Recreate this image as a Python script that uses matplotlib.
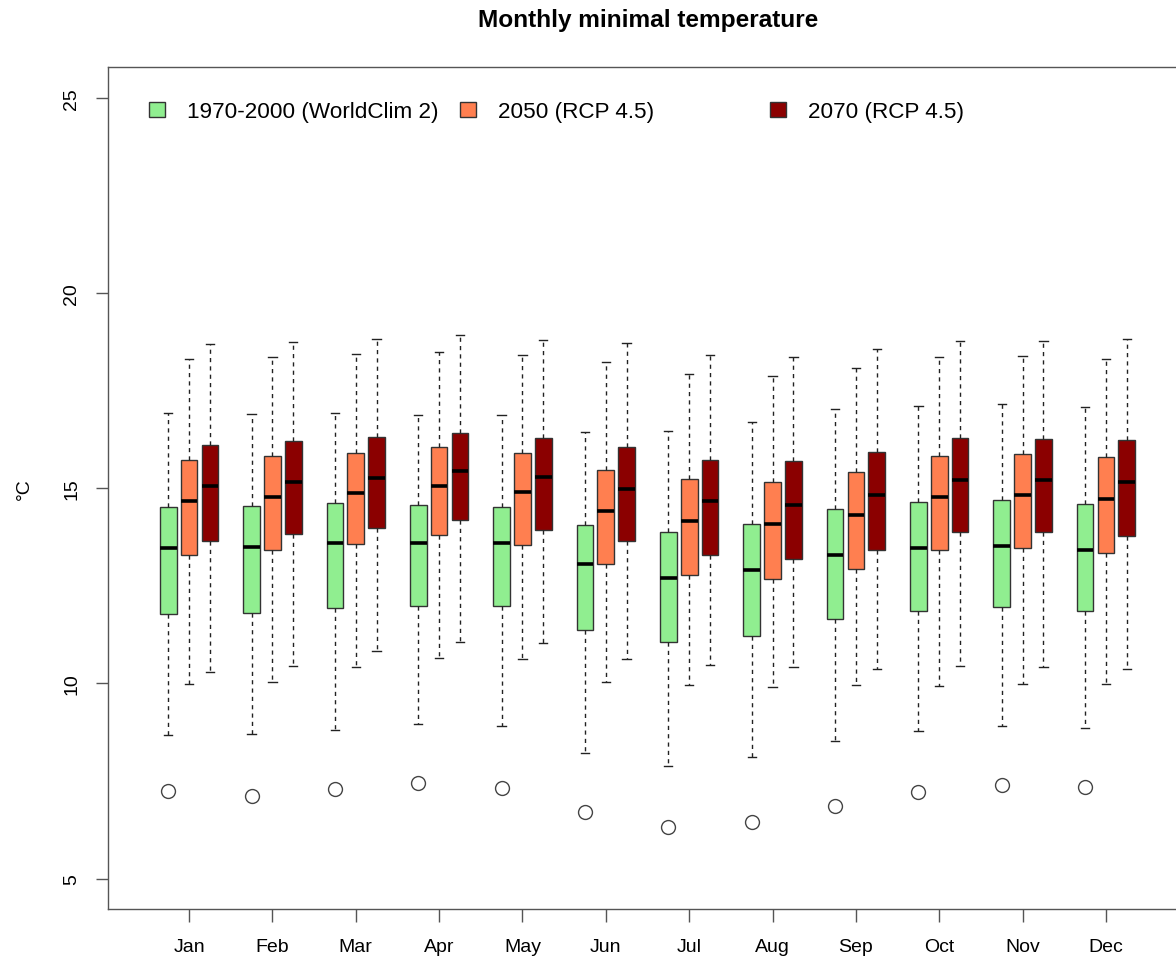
import matplotlib
matplotlib.use("Agg")
import matplotlib.pyplot as plt
from matplotlib.patches import Patch
from matplotlib.legend import Legend

plt.rcParams["font.family"] = ["Liberation Sans", "DejaVu Sans"]

months = ["Jan", "Feb", "Mar", "Apr", "May", "Jun",
          "Jul", "Aug", "Sep", "Oct", "Nov", "Dec"]
series = ["1970-2000 (WorldClim 2)", "2050 (RCP 4.5)", "2070 (RCP 4.5)"]
colors = ["#90EE90", "#FF7F50", "#8B0000"]

# 1970-2000 (WorldClim 2)
cur_hi = [16.93, 16.91, 16.92, 16.88, 16.88, 16.45, 16.47, 16.71, 17.04, 17.12, 17.17, 17.08]
cur_q3 = [14.52, 14.54, 14.62, 14.58, 14.53, 14.07, 13.88, 14.08, 14.46, 14.65, 14.69, 14.59]
cur_med = [13.47, 13.51, 13.59, 13.61, 13.60, 13.07, 12.71, 12.90, 13.29, 13.47, 13.53, 13.43]
cur_q1 = [11.78, 11.81, 11.94, 11.99, 11.98, 11.37, 11.06, 11.21, 11.65, 11.87, 11.95, 11.85]
cur_lo = [8.69, 8.71, 8.82, 8.95, 8.91, 8.21, 7.89, 8.12, 8.53, 8.79, 8.91, 8.87]
cur_out = [7.24, 7.12, 7.29, 7.46, 7.33, 6.70, 6.33, 6.44, 6.87, 7.23, 7.41, 7.35]

# 2050 (RCP 4.5)
f50_hi = [18.31, 18.36, 18.44, 18.50, 18.42, 18.23, 17.93, 17.87, 18.08, 18.38, 18.39, 18.32]
f50_q3 = [15.74, 15.82, 15.90, 16.06, 15.91, 15.47, 15.24, 15.16, 15.42, 15.82, 15.88, 15.80]
f50_med = [14.68, 14.78, 14.88, 15.07, 14.91, 14.42, 14.17, 14.08, 14.32, 14.78, 14.83, 14.73]
f50_q1 = [13.29, 13.42, 13.57, 13.81, 13.55, 13.05, 12.79, 12.69, 12.94, 13.42, 13.47, 13.35]
f50_lo = [9.99, 10.05, 10.42, 10.65, 10.63, 10.04, 9.96, 9.92, 9.97, 9.94, 9.99, 9.99]

# 2070 (RCP 4.5)
f70_hi = [18.71, 18.76, 18.83, 18.92, 18.81, 18.72, 18.43, 18.36, 18.58, 18.77, 18.79, 18.83]
f70_q3 = [16.12, 16.22, 16.31, 16.43, 16.30, 16.06, 15.74, 15.69, 15.92, 16.29, 16.27, 16.23]
f70_med = [15.05, 15.17, 15.27, 15.44, 15.30, 14.99, 14.67, 14.58, 14.83, 15.22, 15.22, 15.17]
f70_q1 = [13.66, 13.82, 13.98, 14.18, 13.94, 13.65, 13.29, 13.19, 13.42, 13.88, 13.88, 13.77]
f70_lo = [10.29, 10.45, 10.83, 11.06, 11.04, 10.63, 10.47, 10.42, 10.38, 10.45, 10.43, 10.38]


def make_stats(lo, q1, med, q3, hi, out=None):
    stats = []
    for i in range(len(lo)):
        stats.append({
            "whislo": lo[i], "q1": q1[i], "med": med[i],
            "q3": q3[i], "whishi": hi[i],
            "fliers": [out[i]] if out is not None else [],
        })
    return stats


groups = [
    make_stats(cur_lo, cur_q1, cur_med, cur_q3, cur_hi, cur_out),
    make_stats(f50_lo, f50_q1, f50_med, f50_q3, f50_hi),
    make_stats(f70_lo, f70_q1, f70_med, f70_q3, f70_hi),
]

fig = plt.figure(figsize=(11.76, 9.62), dpi=100)
ax = fig.add_axes([108 / 1176, 52 / 962, 1068 / 1176, 842 / 962])

frame_col = "#555555"
for k, (stats, col) in enumerate(zip(groups, colors)):
    pos = [4 * m + k + 1 for m in range(12)]
    ax.bxp(stats, positions=pos, widths=0.8, capwidths=0.4,
           patch_artist=True, showfliers=True,
           boxprops=dict(facecolor=col, edgecolor="#333333", linewidth=1),
           medianprops=dict(color="black", linewidth=2.6, solid_capstyle="butt"),
           whiskerprops=dict(color="#222222", linewidth=1, linestyle=(0, (3, 3))),
           capprops=dict(color="#222222", linewidth=1),
           flierprops=dict(marker="o", markerfacecolor="none",
                           markeredgecolor="#444444", markersize=10,
                           markeredgewidth=1))

ax.set_xlim(-1.887, 49.36)
ax.set_ylim(4.22, 25.8)
ax.set_xticks([4 * m + 2 for m in range(12)])
ax.set_xticklabels(months)
ax.set_yticks([5, 10, 15, 20, 25])
ax.set_yticklabels(["5", "10", "15", "20", "25"], rotation=90, va="center")
ax.tick_params(axis="both", length=9, width=1, color=frame_col, labelsize=14)
ax.tick_params(axis="x", pad=12)
ax.tick_params(axis="y", pad=11)
for side in ["left", "top", "bottom"]:
    ax.spines[side].set_color(frame_col)
    ax.spines[side].set_linewidth(1)
ax.spines["right"].set_visible(False)

ax.set_ylabel("°C", fontsize=14, labelpad=22)

# legend: three entries spaced like R's horizontal legend
leg_x = [0.0384, 0.3296, 0.620]
for name, col, x in zip(series, colors, leg_x):
    leg = Legend(ax, [Patch(facecolor=col, edgecolor="#333333", linewidth=1)], [name],
                 loc="center left", bbox_to_anchor=(x, 0.9466),
                 frameon=False, fontsize=16.2, borderpad=0, borderaxespad=0,
                 handlelength=0.72, handleheight=0.65, handletextpad=0.95)
    ax.add_artist(leg)

fig.text(648 / 1176, 1 - 20 / 962, "Monthly minimal temperature",
         ha="center", va="center", fontsize=17.6, fontweight="bold")

fig.savefig("out.png", dpi=100)
